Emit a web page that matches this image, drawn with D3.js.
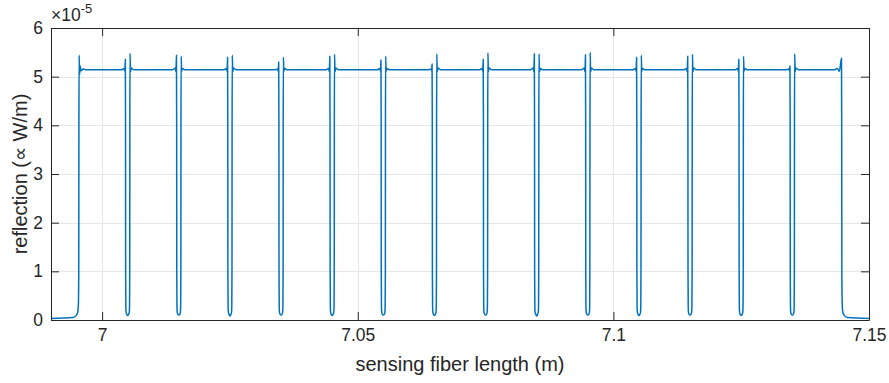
<!DOCTYPE html>
<html>
<head>
<meta charset="utf-8">
<script src="https://cdn.jsdelivr.net/npm/d3@7"></script>
<style>
  html, body { margin: 0; padding: 0; background: #fff; }
  svg text { font-family: "Liberation Sans", Arial, Helvetica, sans-serif; fill: #262626; }
</style>
</head>
<body>
<svg id="chart" width="889" height="383"></svg>
<script>
// Axis ticks and labels
const xTicks = [7, 7.05, 7.1, 7.15];
const yTicks = [0, 1, 2, 3, 4, 5, 6];
const xDomain = [6.99, 7.15];
const yDomain = [0, 6];
const yExponent = -5;
const xLabel = "sensing fiber length (m)";
const yLabel = "reflection (\u221D W/m)";

// Sensing fiber length (m), sampled densely around each grating gap
const fiberLength = [
  6.9900, 6.9943, 6.9949, 6.9952, 6.99535, 6.99543, 6.99546, 6.9955, 6.9956, 6.9957, 6.9959, 6.9963, 6.9969,
  7.0038, 7.0043, 7.00445, 7.00454, 7.00458, 7.0046, 7.00464, 7.0047, 7.00485, 7.0050, 7.00515, 7.0053, 7.00536, 7.0054, 7.00542, 7.00546, 7.00555, 7.0057, 7.0062,
  7.0138, 7.0143, 7.01445, 7.01454, 7.01458, 7.0146, 7.01464, 7.0147, 7.01485, 7.0150, 7.01515, 7.0153, 7.01536, 7.0154, 7.01542, 7.01546, 7.01555, 7.0157, 7.0162,
  7.0238, 7.0243, 7.02445, 7.02454, 7.02458, 7.0246, 7.02464, 7.0247, 7.02485, 7.0250, 7.02515, 7.0253, 7.02536, 7.0254, 7.02542, 7.02546, 7.02555, 7.0257, 7.0262,
  7.0338, 7.0343, 7.03445, 7.03454, 7.03458, 7.0346, 7.03464, 7.0347, 7.03485, 7.0350, 7.03515, 7.0353, 7.03536, 7.0354, 7.03542, 7.03546, 7.03555, 7.0357, 7.0362,
  7.0438, 7.0443, 7.04445, 7.04454, 7.04458, 7.0446, 7.04464, 7.0447, 7.04485, 7.0450, 7.04515, 7.0453, 7.04536, 7.0454, 7.04542, 7.04546, 7.04555, 7.0457, 7.0462,
  7.0538, 7.0543, 7.05445, 7.05454, 7.05458, 7.0546, 7.05464, 7.0547, 7.05485, 7.0550, 7.05515, 7.0553, 7.05536, 7.0554, 7.05542, 7.05546, 7.05555, 7.0557, 7.0562,
  7.0638, 7.0643, 7.06445, 7.06454, 7.06458, 7.0646, 7.06464, 7.0647, 7.06485, 7.0650, 7.06515, 7.0653, 7.06536, 7.0654, 7.06542, 7.06546, 7.06555, 7.0657, 7.0662,
  7.0738, 7.0743, 7.07445, 7.07454, 7.07458, 7.0746, 7.07464, 7.0747, 7.07485, 7.0750, 7.07515, 7.0753, 7.07536, 7.0754, 7.07542, 7.07546, 7.07555, 7.0757, 7.0762,
  7.0838, 7.0843, 7.08445, 7.08454, 7.08458, 7.0846, 7.08464, 7.0847, 7.08485, 7.0850, 7.08515, 7.0853, 7.08536, 7.0854, 7.08542, 7.08546, 7.08555, 7.0857, 7.0862,
  7.0938, 7.0943, 7.09445, 7.09454, 7.09458, 7.0946, 7.09464, 7.0947, 7.09485, 7.0950, 7.09515, 7.0953, 7.09536, 7.0954, 7.09542, 7.09546, 7.09555, 7.0957, 7.0962,
  7.1038, 7.1043, 7.10445, 7.10454, 7.10458, 7.1046, 7.10464, 7.1047, 7.10485, 7.1050, 7.10515, 7.1053, 7.10536, 7.1054, 7.10542, 7.10546, 7.10555, 7.1057, 7.1062,
  7.1138, 7.1143, 7.11445, 7.11454, 7.11458, 7.1146, 7.11464, 7.1147, 7.11485, 7.1150, 7.11515, 7.1153, 7.11536, 7.1154, 7.11542, 7.11546, 7.11555, 7.1157, 7.1162,
  7.1238, 7.1243, 7.12445, 7.12454, 7.12458, 7.1246, 7.12464, 7.1247, 7.12485, 7.1250, 7.12515, 7.1253, 7.12536, 7.1254, 7.12542, 7.12546, 7.12555, 7.1257, 7.1262,
  7.1338, 7.1343, 7.13445, 7.13454, 7.13458, 7.1346, 7.13464, 7.1347, 7.13485, 7.1350, 7.13515, 7.1353, 7.13536, 7.1354, 7.13542, 7.13546, 7.13555, 7.1357, 7.1362,
  7.1432, 7.1438, 7.1442, 7.14462, 7.14466, 7.14469, 7.14477, 7.1449, 7.1452, 7.1458, 7.1500
];

// Reflection (x 1e-5, proportional to W/m) at each fiberLength sample
const reflection = [
  0.03, 0.05, 0.09, 0.15, 0.30, 1.00, 4.00, 5.44, 5.05, 5.22, 5.12, 5.16, 5.14,
  5.14, 5.17, 5.11, 5.36, 4.00, 1.00, 0.26, 0.15, 0.11, 0.09, 0.11, 0.15, 0.26, 1.00, 4.00, 5.48, 5.10, 5.18, 5.14,
  5.14, 5.18, 5.10, 5.44, 4.00, 1.00, 0.26, 0.15, 0.11, 0.10, 0.11, 0.15, 0.26, 1.00, 4.00, 5.42, 5.11, 5.17, 5.14,
  5.14, 5.17, 5.11, 5.40, 4.00, 1.00, 0.26, 0.15, 0.11, 0.08, 0.11, 0.15, 0.26, 1.00, 4.00, 5.44, 5.10, 5.18, 5.14,
  5.14, 5.16, 5.11, 5.30, 4.00, 1.00, 0.26, 0.15, 0.11, 0.10, 0.11, 0.15, 0.26, 1.00, 4.00, 5.40, 5.11, 5.17, 5.14,
  5.14, 5.17, 5.10, 5.42, 4.00, 1.00, 0.26, 0.15, 0.11, 0.09, 0.11, 0.15, 0.26, 1.00, 4.00, 5.46, 5.10, 5.18, 5.14,
  5.14, 5.17, 5.11, 5.34, 4.00, 1.00, 0.26, 0.15, 0.11, 0.10, 0.11, 0.15, 0.26, 1.00, 4.00, 5.42, 5.11, 5.17, 5.14,
  5.14, 5.16, 5.12, 5.26, 4.00, 1.00, 0.26, 0.15, 0.11, 0.09, 0.11, 0.15, 0.26, 1.00, 4.00, 5.47, 5.10, 5.18, 5.14,
  5.14, 5.17, 5.11, 5.36, 4.00, 1.00, 0.26, 0.15, 0.11, 0.10, 0.11, 0.15, 0.26, 1.00, 4.00, 5.49, 5.10, 5.18, 5.14,
  5.14, 5.18, 5.10, 5.47, 4.00, 1.00, 0.26, 0.15, 0.11, 0.08, 0.11, 0.15, 0.26, 1.00, 4.00, 5.47, 5.10, 5.17, 5.14,
  5.14, 5.18, 5.10, 5.45, 4.00, 1.00, 0.26, 0.15, 0.11, 0.10, 0.11, 0.15, 0.26, 1.00, 4.00, 5.50, 5.10, 5.18, 5.14,
  5.14, 5.17, 5.11, 5.40, 4.00, 1.00, 0.26, 0.15, 0.11, 0.09, 0.11, 0.15, 0.26, 1.00, 4.00, 5.44, 5.11, 5.17, 5.14,
  5.14, 5.17, 5.10, 5.42, 4.00, 1.00, 0.26, 0.15, 0.11, 0.10, 0.11, 0.15, 0.26, 1.00, 4.00, 5.46, 5.10, 5.18, 5.14,
  5.14, 5.17, 5.11, 5.36, 4.00, 1.00, 0.26, 0.15, 0.11, 0.09, 0.11, 0.15, 0.26, 1.00, 4.00, 5.42, 5.11, 5.17, 5.14,
  5.14, 5.16, 5.12, 5.22, 4.00, 1.00, 0.26, 0.15, 0.11, 0.10, 0.11, 0.15, 0.26, 1.00, 4.00, 5.47, 5.10, 5.18, 5.14,
  5.14, 5.17, 5.11, 5.38, 4.00, 1.00, 0.30, 0.15, 0.09, 0.05, 0.03
];

const width = 889, height = 383;
const margin = { top: 28, right: 20, bottom: 63, left: 51 };
const innerW = width - margin.left - margin.right;
const innerH = height - margin.top - margin.bottom;

const axisColor = "#262626";
const gridColor = "#e6e6e6";
const lineColor = "#0072BD";
const tickLen = 8;
const fontStack = '"Liberation Sans", Arial, Helvetica, sans-serif';

const svg = d3.select("#chart");
const g = svg.append("g").attr("transform", `translate(${margin.left},${margin.top})`);

const x = d3.scaleLinear().domain(xDomain).range([0, innerW]);
const y = d3.scaleLinear().domain(yDomain).range([innerH, 0]);

// Grid lines
g.append("g").selectAll("line").data(xTicks.filter(d => d > xDomain[0] && d < xDomain[1]))
  .join("line")
  .attr("x1", d => Math.round(x(d)) + 0.5).attr("x2", d => Math.round(x(d)) + 0.5)
  .attr("y1", 0).attr("y2", innerH)
  .attr("stroke", gridColor).attr("stroke-width", 1);
g.append("g").selectAll("line").data(yTicks.filter(d => d > yDomain[0] && d < yDomain[1]))
  .join("line")
  .attr("x1", 0).attr("x2", innerW)
  .attr("y1", d => Math.round(y(d)) + 0.5).attr("y2", d => Math.round(y(d)) + 0.5)
  .attr("stroke", gridColor).attr("stroke-width", 1);

// Data line
const points = fiberLength.map((d, i) => [d, reflection[i]]);
const line = d3.line()
  .x(d => x(d[0]))
  .y(d => y(d[1]))
  .curve(d3.curveMonotoneX);

g.append("path")
  .datum(points)
  .attr("fill", "none")
  .attr("stroke", lineColor)
  .attr("stroke-width", 1.5)
  .attr("stroke-linejoin", "round")
  .attr("d", line);

// Axes: box with inward ticks on all sides
const fmt = d => String(d);

const xBottom = g.append("g").attr("transform", `translate(0,${innerH})`)
  .call(d3.axisBottom(x).tickValues(xTicks).tickFormat(fmt).tickSizeInner(-tickLen).tickSizeOuter(0).tickPadding(9));
const xTop = g.append("g")
  .call(d3.axisTop(x).tickValues(xTicks).tickFormat("").tickSizeInner(-tickLen).tickSizeOuter(0));
const yLeft = g.append("g")
  .call(d3.axisLeft(y).tickValues(yTicks).tickFormat(fmt).tickSizeInner(-tickLen).tickSizeOuter(0).tickPadding(8));
const yRight = g.append("g").attr("transform", `translate(${innerW},0)`)
  .call(d3.axisRight(y).tickValues(yTicks).tickFormat("").tickSizeInner(-tickLen).tickSizeOuter(0));

[xBottom, xTop, yLeft, yRight].forEach(a => {
  a.select(".domain").attr("stroke", axisColor).attr("stroke-width", 1);
  a.selectAll(".tick line").attr("stroke", axisColor).attr("stroke-width", 1);
  a.selectAll(".tick text").attr("font-size", 17.5).attr("fill", axisColor)
    .style("font-family", fontStack);
});

// Exponent label above the y axis
const expText = g.append("text")
  .attr("x", 0).attr("y", -7)
  .attr("font-size", 17.5);
expText.append("tspan").text("\u00D710");
expText.append("tspan").attr("font-size", 13).attr("dy", -8).text(String(yExponent));

// Axis titles
svg.append("text")
  .attr("x", margin.left + innerW / 2)
  .attr("y", 371)
  .attr("text-anchor", "middle")
  .attr("font-size", 20)
  .text(xLabel);

svg.append("text")
  .attr("transform", `translate(27,${margin.top + innerH / 2}) rotate(-90)`)
  .attr("text-anchor", "middle")
  .attr("font-size", 20)
  .text(yLabel);
</script>
</body>
</html>
